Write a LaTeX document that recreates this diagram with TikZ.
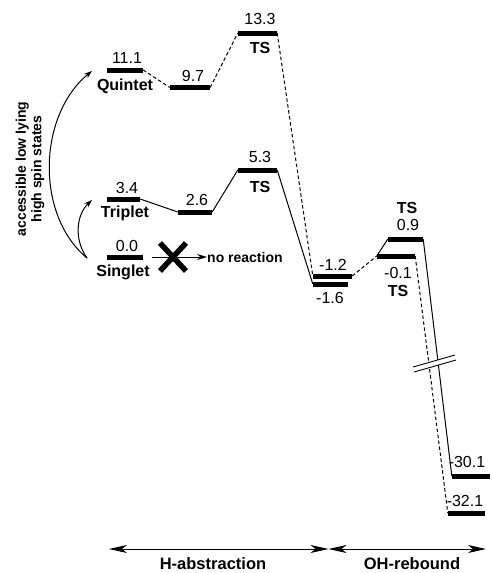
\documentclass[tikz,border=0pt]{standalone}
\usepackage{fontspec}
\setmainfont{Liberation Sans}
\usetikzlibrary{arrows.meta}
\begin{document}
\begin{tikzpicture}[x=1pt,y=-1pt,
  lvl/.style={rectangle, fill=black, inner sep=0pt, minimum height=5pt},
  num/.style={inner sep=0pt, font=\fontsize{16}{18}\selectfont},
  lab/.style={inner sep=0pt, font=\fontsize{16}{18}\selectfont\bfseries},
  qline/.style={line width=1pt, dash pattern=on 3.5pt off 2.5pt},
  tline/.style={line width=1pt},
  curvearrow/.style={line width=1pt, -{Stealth[length=8pt,width=5.5pt]}},
  spanarrow/.style={line width=1pt, {Stealth[length=18pt,width=8pt,inset=5pt]}-{Stealth[length=18pt,width=8pt,inset=5pt]}}
]
\useasboundingbox (0,0) rectangle (491,573);

% energy levels
\node[lvl, minimum width=36pt] (Q1) at (125,70) {};
\node[lvl, minimum width=40pt] (Q2) at (190,87.5) {};
\node[lvl, minimum width=39pt] (Q3) at (257.5,33) {};
\node[lvl, minimum width=33pt] (T1) at (123.5,199) {};
\node[lvl, minimum width=34pt] (T2) at (195,212) {};
\node[lvl, minimum width=39pt] (T3) at (257.5,170) {};
\node[lvl, minimum width=36pt] (S0) at (125,257) {};
\node[lvl, minimum width=39pt] (M1) at (332.5,276) {};
\node[lvl, minimum width=35pt] (M2) at (330.5,284) {};
\node[lvl, minimum width=35pt] (TA) at (405.5,239) {};
\node[lvl, minimum width=38pt] (TB) at (396,256) {};
\node[lvl, minimum width=38pt] (P1) at (471,476) {};
\node[lvl, minimum width=37pt] (P2) at (466.5,513) {};

% quintet path (dashed)
\draw[qline] (Q1.east) -- (Q2.west);
\draw[qline] (Q2.east) -- (Q3.west);
\draw[qline] (Q3.east) -- (M1.west);
\draw[qline] (M1.east) -- (TB.west);
\draw[qline] (TB.east) -- (P2.west);

% triplet path (solid)
\draw[tline] (T1.east) -- (T2.west);
\draw[tline] (T2.east) -- (T3.west);
\draw[tline] (T3.east) -- (M2.west);
\draw[tline] (TB.west) -- (TA.west);
\draw[tline] (TA.east) -- (P1.west);

% axis break
\fill[white] (413,367) -- (455,355) -- (456,360) -- (414,372) -- cycle;
\draw[line width=0.9pt] (413,367) -- (455,355);
\draw[line width=0.9pt] (414,372) -- (456,360);

% labels
\node[num] (l111) at (127,58) {11.1};
\node[lab] (lQ) at (125,86) {Quintet};
\node[num] (l97) at (193,76) {9.7};
\node[num] (l133) at (260,19) {13.3};
\node[lab] (lTSq) at (260,48) {TS};
\node[num] (l34) at (127,188) {3.4};
\node[lab] (lT) at (125,213) {Triplet};
\node[num] (l26) at (197,200) {2.6};
\node[num] (l53) at (260,157) {5.3};
\node[lab] (lTSt) at (260,187) {TS};
\node[num] (l00) at (127,246) {0.0};
\node[lab] (lS) at (123,272) {Singlet};
\node[num] (lm12) at (333,265) {-1.2};
\node[num] (lm16) at (330,298) {-1.6};
\node[lab] (lTSa) at (407,208) {TS};
\node[num] (l09) at (408,225) {0.9};
\node[num] (lm01) at (398,273) {-0.1};
\node[lab] (lTSb) at (398,291) {TS};
\node[num] (lm301) at (467,462) {-30.1};
\node[num] (lm321) at (465,501) {-32.1};

% spin-crossover arrows
\coordinate (sa) at (87,258);
\coordinate (ta) at (92,200);
\coordinate (qa) at (92,71);
\draw[curvearrow] (sa) .. controls (74,240) and (76,215) .. (ta);
\draw[curvearrow] (sa) .. controls (35,215) and (38,115) .. (qa);
\node[rotate=90, align=center, inner sep=0pt, font=\fontsize{14}{15.5}\selectfont\bfseries] (acc) at (30,169) {accessible low lying\\high spin states};

% no reaction
\coordinate (nra) at (152,257);
\node[anchor=west, inner sep=0pt, font=\fontsize{14}{16}\selectfont\bfseries] (nr) at (207,257) {no reaction};
\draw[line width=1pt, -{Stealth[length=10pt,width=6pt]}] (nra) -- (nr.west);
\coordinate (x1) at (160,243);
\coordinate (x2) at (186,271);
\coordinate (x3) at (160,271);
\coordinate (x4) at (186,243);
\draw[line width=5.5pt] (x1) -- (x2);
\draw[line width=5.5pt] (x3) -- (x4);

% process arrows
\coordinate (a1) at (109,549);
\coordinate (a2) at (328.5,549);
\coordinate (a3) at (486,549);
\draw[spanarrow] (a1) -- (a2);
\draw[spanarrow] (a2) -- (a3);
\node[inner sep=0pt, font=\fontsize{16.5}{18}\selectfont\bfseries] (hab) at (213,564) {H-abstraction};
\node[inner sep=0pt, font=\fontsize{16.5}{18}\selectfont\bfseries] (ohr) at (412,564) {OH-rebound};
\end{tikzpicture}
\end{document}
